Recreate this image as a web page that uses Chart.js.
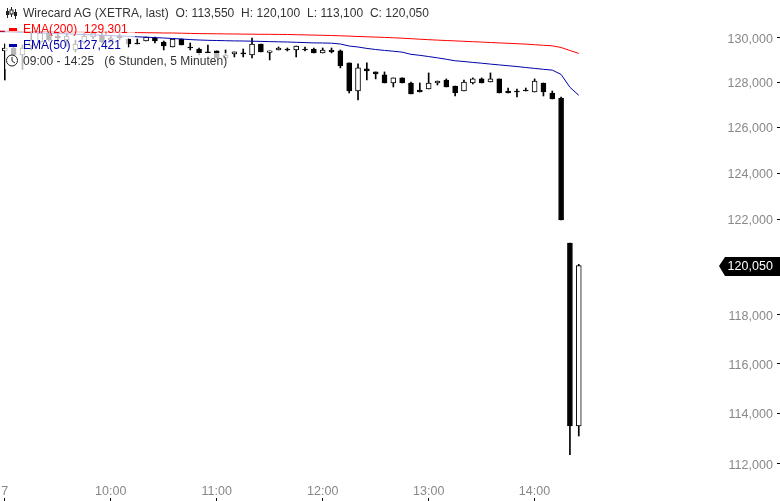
<!DOCTYPE html>
<html>
<head>
<meta charset="utf-8">
<title>Wirecard AG</title>
<script src="https://cdn.jsdelivr.net/npm/chart.js@4"></script>
<style>
  html, body { margin: 0; padding: 0; background: #fff; overflow: hidden; }
  #wrap { position: relative; width: 780px; height: 501px; font: 12px "Liberation Sans", Arial, sans-serif; letter-spacing: 0.04px; }
  canvas { position: absolute; left: 0; top: 0; }
  .row { position: absolute; left: 5px; height: 16px; line-height: 16px; padding-left: 18px; box-sizing: border-box;
         white-space: pre; background: rgba(255,255,255,0.72); }
  .row svg { position: absolute; left: 0; top: 0; }
</style>
</head>
<body>
<div id="wrap">
  <canvas id="myChart" width="780" height="501"></canvas>
  <div class="row" style="top:5px;width:427px;color:#333"><svg width="14" height="16"><path d="M2.5 3v10M6.5 2v10M10.5 4v10" stroke="#222" fill="none"/><rect x="1" y="6" width="3" height="4" fill="#222"/><rect x="5" y="5" width="3" height="4" fill="#fff" stroke="#222"/><rect x="9" y="7" width="3" height="4" fill="#222"/></svg>Wirecard AG (XETRA, last)  O: 113,550  H: 120,100  L: 113,100  C: 120,050</div>
  <div class="row" style="top:21px;width:130px;color:#f00"><svg width="14" height="16"><rect x="4" y="7" width="8" height="3" fill="#f00"/></svg>EMA(200)  129,301</div>
  <div class="row" style="top:37px;width:123px;color:#00a"><svg width="14" height="16"><rect x="4" y="7" width="8" height="3" fill="#00a"/></svg>EMA(50)  127,421</div>
  <div class="row" style="top:53px;width:227px;color:#333"><svg width="14" height="16"><circle cx="7" cy="7.5" r="5.5" fill="none" stroke="#222"/><path d="M7 4v4l3 2" fill="none" stroke="#222"/></svg>09:00 - 14:25   (6 Stunden, 5 Minuten)</div>
</div>
<script>
// 5 minute candles, 09:00 to 14:25
const opens = [129.412,129.547,129.231,129.638,129.819,130.227,130.091,129.909,129.457,129.819,130.045,130.136,129.909,130.091,
  129.955,129.773,129.864,130.000,129.819,129.592,129.955,129.592,129.502,129.367,129.412,129.096,129.277,129.322,129.231,129.728,
  129.345,129.457,129.502,129.457,129.502,129.502,129.322,129.457,129.412,128.871,127.612,128.601,128.466,128.331,127.970,128.197,
  127.970,127.657,127.702,127.970,128.104,127.836,127.612,127.970,128.152,128.014,128.152,127.612,127.612,127.657,127.568,127.970,
  127.523,127.300,121.000,113.500];
const highs = [129.728,129.683,129.683,130.227,130.318,130.318,130.182,130.227,129.909,130.227,130.318,130.227,130.091,130.182,
  129.955,129.955,130.045,130.045,129.864,129.955,129.955,129.773,129.547,129.683,129.412,129.457,129.367,129.502,130.000,129.728,
  129.412,129.592,129.547,129.638,129.592,129.547,129.547,129.547,129.457,128.871,128.826,128.871,128.466,128.466,128.197,128.197,
  128.014,127.970,128.421,128.059,128.152,127.836,128.104,128.197,128.197,128.421,128.152,127.746,127.702,127.746,128.152,127.970,
  127.612,127.345,121.000,120.100];
const lows = [128.104,129.186,128.601,129.457,129.728,129.864,129.819,129.638,129.367,129.728,129.955,129.773,129.819,129.909,
  129.592,129.728,129.864,129.773,129.457,129.592,129.683,129.457,129.231,129.322,129.096,129.006,129.141,129.141,129.096,129.367,
  129.006,129.457,129.412,129.141,129.412,129.322,129.322,129.322,128.646,127.523,127.212,128.104,128.152,127.970,127.791,127.970,
  127.479,127.568,127.702,127.880,127.791,127.389,127.612,127.925,127.970,128.014,127.523,127.523,127.345,127.612,127.568,127.389,
  127.256,121.980,112.360,113.100];
const closes = [129.547,129.231,129.547,129.909,130.227,129.909,130.000,130.091,129.728,130.091,130.227,129.819,130.000,130.000,
  129.728,129.728,130.045,129.864,129.638,129.955,129.683,129.547,129.322,129.322,129.096,129.231,129.367,129.277,129.728,129.367,
  129.412,129.547,129.457,129.638,129.457,129.322,129.457,129.367,128.736,127.612,128.646,128.511,128.376,127.970,128.197,127.970,
  127.479,127.568,127.970,128.059,127.791,127.523,128.014,128.152,127.970,128.152,127.523,127.523,127.568,127.612,128.059,127.568,
  127.256,121.980,113.500,120.050];
// first value of each average sits one bar before 09:00
const ema200 = [130.319,130.309,130.305,130.300,130.296,130.291,130.287,130.282,130.278,130.273,130.273,130.268,130.264,130.259,130.255,
  130.250,130.246,130.241,130.237,130.228,130.228,130.218,130.209,130.200,130.196,130.191,130.187,130.182,130.177,130.173,130.168,
  130.168,130.164,130.159,130.150,130.141,130.132,130.123,130.114,130.100,130.086,130.068,130.055,130.041,130.027,130.009,129.991,
  129.968,129.945,129.923,129.904,129.886,129.868,129.850,129.832,129.814,129.795,129.777,129.759,129.741,129.722,129.695,129.668,
  129.645,129.568,129.432,129.301];
const ema50 = [130.296,130.287,130.273,130.255,130.241,130.228,130.214,130.200,130.187,130.173,130.159,130.141,130.123,130.109,130.091,
  130.077,130.055,130.036,130.018,130.000,129.977,129.955,129.927,129.909,129.895,129.886,129.877,129.868,129.864,129.855,129.846,
  129.836,129.827,129.818,129.805,129.791,129.777,129.773,129.764,129.727,129.636,129.591,129.527,129.477,129.436,129.400,129.359,
  129.259,129.214,129.159,129.100,129.036,128.968,128.934,128.894,128.858,128.818,128.781,128.745,128.709,128.664,128.624,128.583,
  128.547,128.354,127.777,127.421];
const yTicks = [112, 114, 116, 118, 122, 124, 126, 128, 130];
const xTickBars = [0, 12, 24, 36, 48, 60];
const xTickLabels = ['7', '10:00', '11:00', '12:00', '13:00', '14:00'];
const lastPrice = 120.05;

const fmt = v => v.toFixed(3).replace('.', ',');

// no room kept around the axes, the labels sit inside the plot
function tightAxis(s) {
  s.paddingTop = s.paddingBottom = s.paddingLeft = s.paddingRight = 0;
  if (s.isHorizontal()) s.height = 3; else s.width = 3;
}

// price tag on the right edge
const lastTag = {
  id: 'lastTag',
  afterDraw(chart) {
    const c = chart.ctx;
    const y = Math.round(chart.scales.y.getPixelForValue(lastPrice));
    c.save();
    c.fillStyle = '#000';
    c.beginPath();
    c.moveTo(719, y);
    c.lineTo(725, y - 9);
    c.lineTo(780, y - 9);
    c.lineTo(780, y + 10);
    c.lineTo(725, y + 10);
    c.closePath();
    c.fill();
    c.fillStyle = '#fff';
    c.font = '12.5px "Liberation Sans"';
    c.textAlign = 'right';
    c.textBaseline = 'middle';
    c.fillText(fmt(lastPrice), 773, y + 1);
    c.restore();
  }
};

Chart.defaults.font.family = '"Liberation Sans", Arial, sans-serif';
Chart.defaults.font.size = 12.5;

var myChart = new Chart(document.getElementById('myChart'), {
  data: {
    datasets: [
      {
        type: 'bar', order: 3, grouped: false, barThickness: 1,
        backgroundColor: '#000',
        data: opens.map((o, i) => ({ x: i, y: [lows[i], highs[i]] }))
      },
      {
        type: 'bar', order: 2, grouped: false, barThickness: 5, minBarLength: 1,
        borderWidth: 1, borderSkipped: false, borderColor: '#000',
        backgroundColor: opens.map((o, i) => closes[i] > o ? '#fff' : '#000'),
        data: opens.map((o, i) => ({ x: i, y: [o, closes[i]] }))
      },
      {
        type: 'line', order: 1, borderColor: '#f00', borderWidth: 1, pointRadius: 0, tension: 0,
        data: ema200.map((v, i) => ({ x: i - 1, y: v }))
      },
      {
        type: 'line', order: 1, borderColor: '#00a', borderWidth: 1, pointRadius: 0, tension: 0,
        data: ema50.map((v, i) => ({ x: i - 1, y: v }))
      }
    ]
  },
  options: {
    responsive: false,
    animation: false,
    layout: { padding: 0 },
    plugins: { legend: { display: false }, tooltip: { enabled: false } },
    scales: {
      x: {
        type: 'linear',
        position: 'bottom',
        min: -0.544,
        max: 87.45,
        offset: false,
        grid: { offset: false, drawOnChartArea: false, tickLength: 3, tickColor: '#000' },
        border: { display: false },
        afterFit: tightAxis,
        afterBuildTicks: s => { s.ticks = xTickBars.map(v => ({ value: v })); },
        ticks: {
          autoSkip: false, maxRotation: 0, mirror: true, padding: -1, color: '#888',
          callback: v => xTickLabels[xTickBars.indexOf(v)]
        }
      },
      y: {
        type: 'logarithmic',
        position: 'right',
        min: 110.673,
        max: 131.74,
        grid: { drawOnChartArea: false, tickLength: 3, tickColor: '#000' },
        border: { display: false },
        afterFit: tightAxis,
        afterBuildTicks: s => { s.ticks = yTicks.map(v => ({ value: v })); },
        ticks: { autoSkip: false, mirror: true, padding: -4, labelOffset: 1.5, color: '#888', callback: v => fmt(v) }
      }
    }
  },
  plugins: [lastTag]
});
</script>
</body>
</html>
